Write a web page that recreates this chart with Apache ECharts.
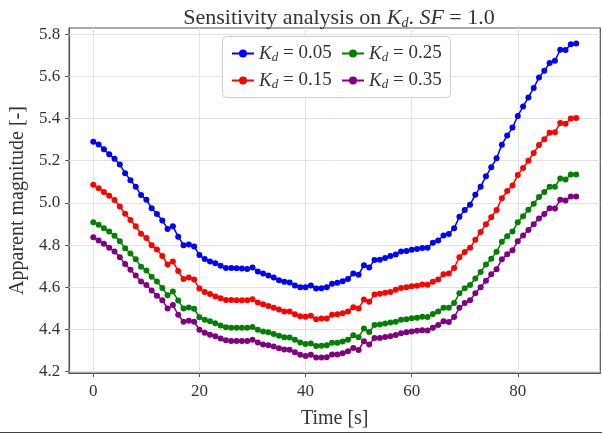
<!DOCTYPE html>
<html><head><meta charset="utf-8">
<script src="https://cdn.jsdelivr.net/npm/echarts@6/dist/echarts.min.js"></script>
<style>html,body{margin:0;padding:0;background:#fff}#c{width:602px;height:434px}</style>
</head><body><div id="c"></div>
<script>
const times = [0,1,2,3,4,5,6,7,8,9,10,11,12,13,14,15,16,17,18,19,20,21,22,23,24,25,26,27,28,29,30,31,32,33,34,35,36,37,38,39,40,41,42,43,44,45,46,47,48,49,50,51,52,53,54,55,56,57,58,59,60,61,62,63,64,65,66,67,68,69,70,71,72,73,74,75,76,77,78,79,80,81,82,83,84,85,86,87,88,89,90,91];
const kd005 = [5.290,5.277,5.254,5.231,5.209,5.182,5.141,5.108,5.077,5.037,
5.015,4.975,4.948,4.917,4.877,4.889,4.840,4.800,4.803,4.794,
4.753,4.734,4.722,4.714,4.702,4.692,4.692,4.690,4.689,4.687,
4.694,4.675,4.665,4.656,4.646,4.634,4.626,4.623,4.609,4.600,
4.600,4.609,4.594,4.596,4.600,4.617,4.622,4.629,4.640,4.665,
4.660,4.705,4.694,4.729,4.731,4.739,4.748,4.756,4.770,4.772,
4.778,4.782,4.786,4.788,4.811,4.822,4.846,4.853,4.880,4.934,
4.966,4.991,5.039,5.077,5.126,5.169,5.212,5.276,5.319,5.357,
5.412,5.457,5.500,5.545,5.594,5.626,5.663,5.674,5.726,5.725,
5.752,5.755];
const kd015 = [5.086,5.069,5.052,5.034,5.014,4.983,4.949,4.919,4.889,4.854,
4.834,4.800,4.779,4.749,4.708,4.723,4.677,4.639,4.646,4.637,
4.594,4.578,4.568,4.557,4.548,4.540,4.540,4.539,4.539,4.539,
4.543,4.528,4.520,4.511,4.503,4.495,4.485,4.485,4.472,4.463,
4.460,4.465,4.449,4.452,4.452,4.470,4.472,4.477,4.486,4.506,
4.500,4.542,4.532,4.566,4.569,4.574,4.578,4.588,4.597,4.600,
4.605,4.608,4.613,4.612,4.626,4.637,4.662,4.665,4.692,4.742,
4.768,4.788,4.825,4.862,4.899,4.932,4.967,5.022,5.056,5.083,
5.132,5.166,5.200,5.237,5.274,5.302,5.333,5.335,5.379,5.375,
5.400,5.403];
const kd025 = [4.909,4.896,4.880,4.865,4.845,4.818,4.785,4.760,4.733,4.698,
4.680,4.650,4.628,4.597,4.563,4.580,4.537,4.500,4.505,4.499,
4.458,4.446,4.439,4.430,4.419,4.411,4.408,4.408,4.408,4.408,
4.412,4.399,4.391,4.387,4.379,4.371,4.363,4.362,4.351,4.339,
4.331,4.334,4.322,4.323,4.325,4.337,4.337,4.343,4.351,4.373,
4.363,4.405,4.388,4.422,4.424,4.428,4.433,4.437,4.446,4.449,
4.453,4.456,4.460,4.459,4.474,4.485,4.503,4.503,4.526,4.572,
4.596,4.611,4.642,4.673,4.708,4.735,4.769,4.816,4.842,4.865,
4.908,4.937,4.968,4.996,5.028,5.052,5.077,5.077,5.116,5.111,
5.135,5.135];
const kd035 = [4.837,4.822,4.806,4.788,4.770,4.742,4.711,4.683,4.656,4.628,
4.611,4.585,4.560,4.539,4.500,4.516,4.470,4.437,4.442,4.437,
4.399,4.385,4.375,4.368,4.357,4.349,4.346,4.346,4.346,4.346,
4.352,4.339,4.329,4.325,4.319,4.311,4.305,4.304,4.292,4.280,
4.274,4.280,4.268,4.268,4.269,4.282,4.282,4.288,4.297,4.313,
4.303,4.345,4.329,4.360,4.360,4.365,4.368,4.374,4.382,4.387,
4.391,4.394,4.397,4.396,4.409,4.422,4.439,4.436,4.459,4.503,
4.526,4.539,4.572,4.600,4.631,4.662,4.686,4.733,4.757,4.776,
4.818,4.846,4.872,4.899,4.926,4.948,4.975,4.973,5.015,5.011,
5.031,5.031];
const kdValues = ['0.05','0.15','0.25','0.35'];
const colors = ['#0000ff','#ff0000','#008000','#800080'];
const xTicks = [0,20,40,60,80];
const yTicks = [4.2,4.4,4.6,4.8,5.0,5.2,5.4,5.6,5.8];

const FONT = '"Liberation Serif", "DejaVu Serif", serif';
const TXT = '#333';
const allSeries = [kd005, kd015, kd025, kd035];
const names = kdValues.map(v => 'Kd = ' + v);

const series = allSeries.map((arr, i) => ({
  name: names[i],
  type: 'line',
  data: arr.map((v, j) => [times[j], v]),
  symbol: 'circle',
  symbolSize: 6,
  showSymbol: true,
  color: colors[i],
  lineStyle: {width: 1.5, color: colors[i]},
  itemStyle: {color: colors[i]},
  z: 3 + i,
  animation: false
}));
series.push({
  type: 'line', data: [], silent: true, z: 1, animation: false,
  markLine: {
    z: 1, zlevel: 0,
    silent: true, symbol: ['none','none'], label: {show: false}, animation: false,
    lineStyle: {color: '#e3e3e3', width: 1, type: 'solid'},
    data: yTicks.map(v => ({yAxis: v})).concat(xTicks.map(v => ({xAxis: v})))
  }
});

const richLegend = {
  k: {fontFamily: FONT, fontStyle: 'italic', fontWeight: 'normal', fontSize: 19, color: TXT},
  d: {fontFamily: FONT, fontStyle: 'italic', fontWeight: 'normal', fontSize: 13, color: TXT, padding: [8, 0, 0, 0]},
  t: {fontFamily: FONT, fontWeight: 'normal', fontSize: 19, color: TXT}
};
const legendFmt = name => '{k|K}{d|d}{t| = ' + name.split('= ')[1] + '}';
const legendBase = {
  orient: 'vertical', top: 39, itemGap: 7, itemWidth: 22, itemHeight: 10, z: 9,
  formatter: legendFmt, textStyle: {rich: richLegend}, selectedMode: false
};

const chart = echarts.init(document.getElementById('c'), null, {renderer: 'canvas'});
chart.setOption({
  animation: false,
  backgroundColor: '#fff',
  title: {
    text: '{a|Sensitivity analysis on }{k|K}{d|d}{a|. }{k|SF}{a| = 1.0}',
    left: 334, top: 2, textAlign: 'center',
    textStyle: {fontWeight: 'normal', rich: {
      a: {fontFamily: FONT, fontWeight: 'normal', fontSize: 22, color: TXT},
      k: {fontFamily: FONT, fontStyle: 'italic', fontWeight: 'normal', fontSize: 22, color: TXT},
      d: {fontFamily: FONT, fontStyle: 'italic', fontWeight: 'normal', fontSize: 14, color: TXT, padding: [9, 0, 0, 0]}
    }}
  },
  legend: [
    Object.assign({}, legendBase, {left: 226, data: [names[0], names[1]]}),
    Object.assign({}, legendBase, {left: 336, data: [names[2], names[3]]})
  ],
  grid: {left: 66.7, right: 1.7, top: 28, bottom: 52, show: true, borderColor: '#555', borderWidth: 1.2, containLabel: false},
  xAxis: {
    type: 'value', min: -4.55, max: 95.55,
    name: 'Time [s]', nameLocation: 'middle', nameGap: 36,
    nameTextStyle: {fontFamily: FONT, fontSize: 20, color: TXT},
    axisLine: {show: true, onZero: false, lineStyle: {color: '#555', width: 1.2}},
    axisTick: {show: true, customValues: xTicks, length: 4, lineStyle: {color: '#555'}},
    axisLabel: {customValues: xTicks, fontFamily: FONT, fontSize: 17, color: TXT, margin: 10},
    splitLine: {show: false}
  },
  yAxis: {
    type: 'value', min: 4.194, max: 5.829,
    name: 'Apparent magnitude [-]', nameLocation: 'middle', nameGap: 36,
    nameTextStyle: {fontFamily: FONT, fontSize: 20, color: TXT},
    axisLine: {show: true, onZero: false, lineStyle: {color: '#555', width: 1.2}},
    axisTick: {show: true, customValues: yTicks, length: 4, lineStyle: {color: '#555'}},
    axisLabel: {customValues: yTicks, formatter: v => v.toFixed(1), fontFamily: FONT, fontSize: 17, color: TXT, margin: 9},
    splitLine: {show: false}
  },
  graphic: [
    {type: 'rect', z: 8, silent: true,
     shape: {x: 222.5, y: 36.5, width: 228, height: 61, r: 4},
     style: {fill: 'rgba(255,255,255,0.85)', stroke: '#d0d0d0', lineWidth: 1}},
    {type: 'line', silent: true, shape: {x1: 0, y1: 432.5, x2: 602, y2: 432.5},
     style: {stroke: '#444', lineWidth: 1.2}}
  ],
  series: series
});
</script>
</body></html>
